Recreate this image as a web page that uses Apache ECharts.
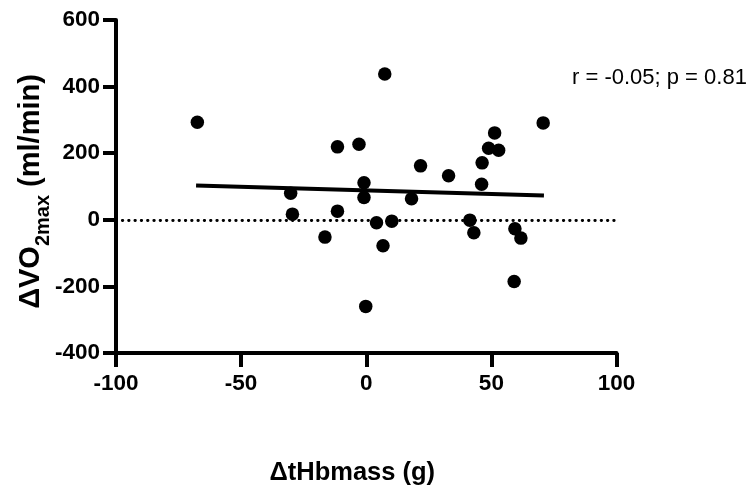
<!DOCTYPE html>
<html>
<head>
<meta charset="utf-8">
<script src="https://cdn.jsdelivr.net/npm/echarts@6/dist/echarts.min.js"></script>
<style>
html,body{margin:0;padding:0;background:#fff;}
#chart{width:748px;height:490px;}
</style>
</head>
<body>
<div id="chart"></div>
<script>
// ΔtHbmass (g)
var xValues = [-67.5, -30.2, -29.5, -16.5, -11.5, -11.5, -2.9, -0.9, -0.9, -0.2, 4.1, 6.7, 7.4, 10.2, 18.1, 21.7, 32.9, 41.4, 43.0, 46.1, 46.3, 48.9, 51.3, 52.9, 59.1, 59.4, 61.8, 70.7];
// ΔVO2max (ml/min)
var yValues = [293, 80, 17, -52, 219, 26, 227, 111, 67, -260, -9, -78, 438, -4, 63, 162, 132, -1, -39, 107, 171, 215, 261, 209, -185, -27, -55, 291];
// regression line endpoints
var fitX = [-68, 71];
var fitY = [103, 73];
var xTicks = [-100, -50, 0, 50, 100];
var yTicks = [-400, -200, 0, 200, 400, 600];
var annotation = 'r = -0.05; p = 0.81';

var FONT = '"Liberation Sans", Arial, Helvetica, sans-serif';
var points = xValues.map(function (x, i) { return [x, yValues[i]]; });
var fitLine = fitX.map(function (x, i) { return [x, fitY[i]]; });

var chart = echarts.init(document.getElementById('chart'), null, {renderer: 'canvas'});
chart.setOption({
  animation: false,
  backgroundColor: '#ffffff',
  grid: {left: 116, right: 131.5, top: 20, bottom: 137, containLabel: false, outerBoundsMode: 'none'},
  xAxis: {
    type: 'value',
    min: xTicks[0], max: xTicks[xTicks.length - 1], interval: 50,
    name: 'ΔtHbmass (g)',
    nameLocation: 'middle',
    nameGap: 107,
    nameMoveOverlap: false,
    nameTextStyle: {fontFamily: FONT, fontWeight: 'bold', fontSize: 25.5, color: '#000', padding: [0, 28, 0, 0]},
    axisLine: {show: true, onZero: false, lineStyle: {color: '#000', width: 4}},
    axisTick: {show: true, length: 14, lineStyle: {color: '#000', width: 4}},
    axisLabel: {fontFamily: FONT, fontWeight: 'bold', fontSize: 22.5, color: '#000', margin: 19},
    splitLine: {show: false}
  },
  yAxis: {
    type: 'value',
    min: yTicks[0], max: yTicks[yTicks.length - 1], interval: 200,
    name: '{a|ΔVO}{b|2max}{a| (ml/min)}',
    nameLocation: 'middle',
    nameGap: 63,
    nameMoveOverlap: false,
    nameRotate: 90,
    nameTextStyle: {
      color: '#000',
      padding: [0, 10, 0, 0],
      rich: {
        a: {fontFamily: FONT, fontWeight: 'bold', fontSize: 29, color: '#000', verticalAlign: 'top', lineHeight: 34},
        b: {fontFamily: FONT, fontWeight: 'bold', fontSize: 20, color: '#000', verticalAlign: 'bottom', lineHeight: 37}
      }
    },
    axisLine: {show: true, onZero: false, lineStyle: {color: '#000', width: 4}},
    axisTick: {show: true, length: 13, lineStyle: {color: '#000', width: 4}},
    axisLabel: {fontFamily: FONT, fontWeight: 'bold', fontSize: 22.5, color: '#000', margin: 16},
    splitLine: {show: false}
  },
  series: [
    {
      type: 'line',
      data: fitLine,
      symbol: 'none',
      lineStyle: {color: '#000', width: 4},
      z: 3,
      markLine: {
        silent: true,
        symbol: ['none', 'none'],
        label: {show: false},
        lineStyle: {color: '#000', width: 2.8, type: [0.5, 5.8], cap: 'round'},
        data: [{yAxis: 0}]
      }
    },
    {
      type: 'scatter',
      data: points,
      symbol: 'circle',
      symbolSize: 13.5,
      itemStyle: {color: '#000', opacity: 1},
      z: 4
    }
  ],
  graphic: [
    {
      type: 'text',
      left: 572,
      top: 67,
      style: {text: annotation, fontFamily: FONT, fontSize: 22, fill: '#000'}
    }
  ]
});
</script>
</body>
</html>
